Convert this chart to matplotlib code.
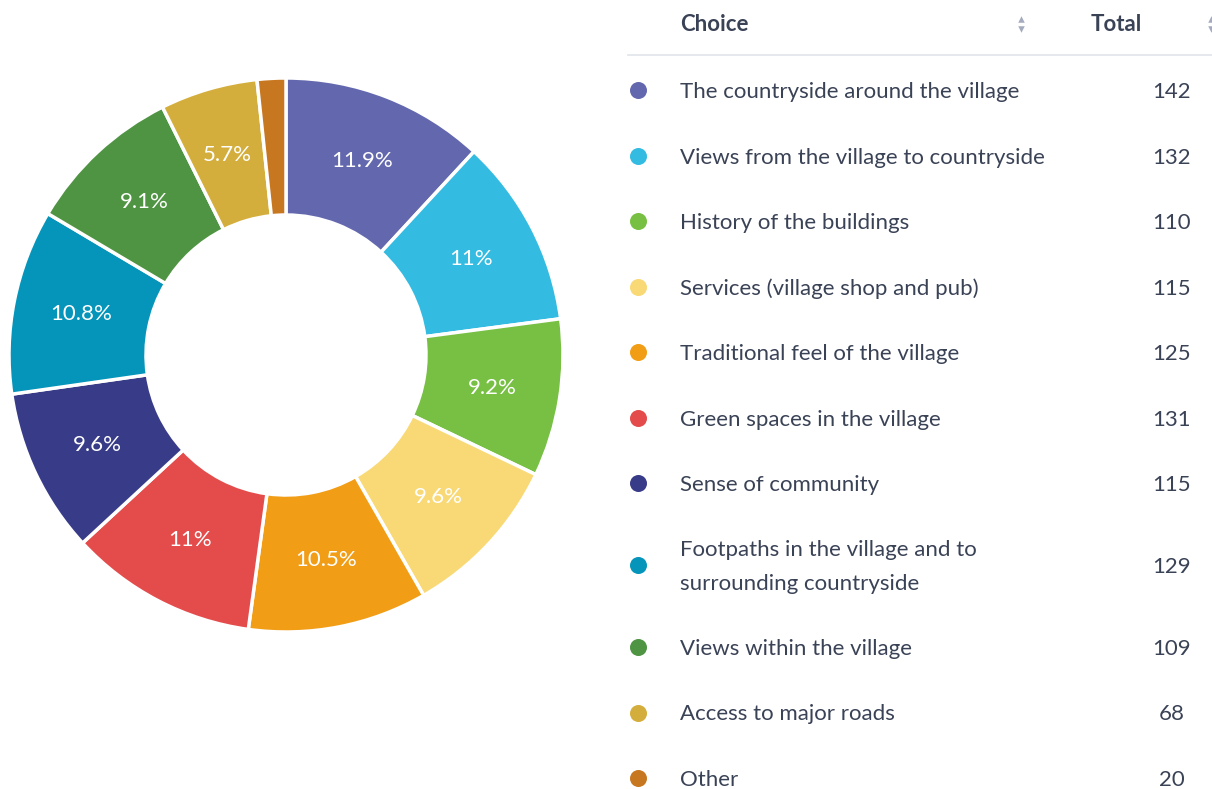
import matplotlib.pyplot as plt

choices = [
    "The countryside around the village",
    "Views from the village to countryside",
    "History of the buildings",
    "Services (village shop and pub)",
    "Traditional feel of the village",
    "Green spaces in the village",
    "Sense of community",
    "Footpaths in the village and to\nsurrounding countryside",
    "Views within the village",
    "Access to major roads",
    "Other",
]
totals = [142, 132, 110, 115, 125, 131, 115, 129, 109, 68, 20]
colors = ["#6368AE", "#33BBE1", "#77C043", "#F9D976", "#F19D16", "#E44C4C",
          "#383C88", "#0595BA", "#4F9443", "#D4AE3C", "#C87721"]

TEXT = "#3A4256"
W, H = 1212, 789

plt.rcParams['font.family'] = ['Lato', 'DejaVu Sans']


def pct_label(p):
    if p < 3:
        return ""
    s = f"{p:.1f}"
    if s.endswith(".0"):
        s = s[:-2]
    return s + "%"


def py(y):
    # pixel-from-top to axes y
    return H - y


fig = plt.figure(figsize=(W / 100, H / 100), dpi=100)
ax = fig.add_axes([0, 0, 1, 1])

cx, cy, r_out, r_in = 286, 355, 277, 140
wedges, _, autotexts = ax.pie(
    totals, colors=colors, startangle=90, counterclock=False,
    center=(cx, py(cy)), radius=r_out,
    autopct=pct_label, pctdistance=(r_out + r_in) / 2 / r_out,
    wedgeprops=dict(width=r_out - r_in, edgecolor="white", linewidth=2.5),
    textprops=dict(color="white", fontsize=16),
)

ax.set_xlim(0, W)
ax.set_ylim(0, H)
ax.set_aspect("equal")
ax.axis("off")

# table header
ax.text(680, py(24), "Choice", fontsize=16, fontweight="bold", color=TEXT,
        va="center", ha="left")
ax.text(1142, py(24), "Total", fontsize=16, fontweight="bold", color=TEXT,
        va="center", ha="right")
for sx in (1021, 1211):
    ax.scatter([sx], [py(19)], marker="^", s=22, color="#A4ABBE", lw=0)
    ax.scatter([sx], [py(29)], marker="v", s=22, color="#A4ABBE", lw=0)
ax.plot([628, W], [py(55), py(55)], color="#E3E6EC", lw=1.3)

# table rows
for i, (name, tot, col) in enumerate(zip(choices, totals, colors)):
    y = 90 + 65.5 * i + (16.5 if i >= 7 else 0) + (16.5 if i >= 8 else 0)
    ax.scatter([638], [py(y)], s=150, color=col, lw=0)
    ax.text(680, py(y + 2), name, fontsize=16, color=TEXT, va="center",
            ha="left", linespacing=1.85)
    ax.text(1172, py(y + 2), str(tot), fontsize=16, color=TEXT, va="center",
            ha="center")

fig.savefig("out.png", dpi=100)
